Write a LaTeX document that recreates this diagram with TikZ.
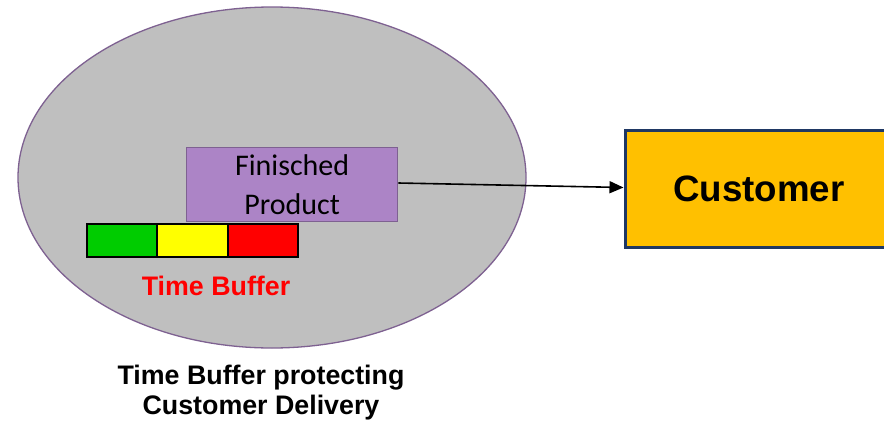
\documentclass[tikz,border=0pt]{standalone}
\usepackage{fontspec}
\setmainfont{Liberation Sans}
\newfontfamily\calibri{Carlito}
\usetikzlibrary{shapes.geometric,arrows.meta}
\definecolor{ellfill}{HTML}{BFBFBF}
\definecolor{ellline}{HTML}{7E6191}
\definecolor{fpfill}{HTML}{AC84C6}
\definecolor{fpline}{HTML}{7E6191}
\definecolor{custfill}{HTML}{FFC000}
\definecolor{custline}{HTML}{1F3864}
\definecolor{bgreen}{HTML}{00CC00}
\definecolor{byellow}{HTML}{FFFF00}
\definecolor{bred}{HTML}{FF0000}
\tikzset{
  seg/.style={draw=black, line width=2pt, minimum width=70pt, minimum height=33pt, inner sep=0pt, anchor=north west},
  boldlbl/.style={font=\fontsize{26.8}{30}\selectfont\bfseries, align=center, inner sep=0pt},
}
\begin{document}
\begin{tikzpicture}[x=1pt,y=-1pt]
\useasboundingbox[fill=white] (0,0) rectangle (884,423);
\node[ellipse, draw=ellline, line width=1.3pt, fill=ellfill, minimum width=508pt, minimum height=341pt, inner sep=0pt] (ell) at (272,177.5) {};
\node[draw=fpline, line width=1.3pt, fill=fpfill, minimum width=211pt, minimum height=74pt, inner sep=0pt, anchor=north west, align=center, font=\calibri\fontsize{30}{39}\selectfont] (fp) at (186,147) {Finisched\\Product};
\node[seg, fill=bgreen] (g) at (86,222.5) {};
\node[seg, fill=byellow, minimum width=71pt] (yel) at (156,222.5) {};
\node[seg, fill=bred, minimum width=70pt] (r) at (227,222.5) {};
\node[boldlbl, text=bred] (tb) at (216,286) {Time Buffer};
\node[draw=custline, line width=3pt, fill=custfill, minimum width=268pt, minimum height=117pt, inner sep=0pt, anchor=north west, font=\fontsize{36.7}{40}\selectfont\bfseries] (cust) at (623.5,129) {Customer};
\node[boldlbl, anchor=north] (cap) at (261,365) {Time Buffer protecting\\Customer Delivery};
\draw[line width=1.6pt, -{Triangle[length=14pt,width=12pt]}] (fp.east |- 0,183) -- (cust.west |- 0,187.5);
\end{tikzpicture}
\end{document}
